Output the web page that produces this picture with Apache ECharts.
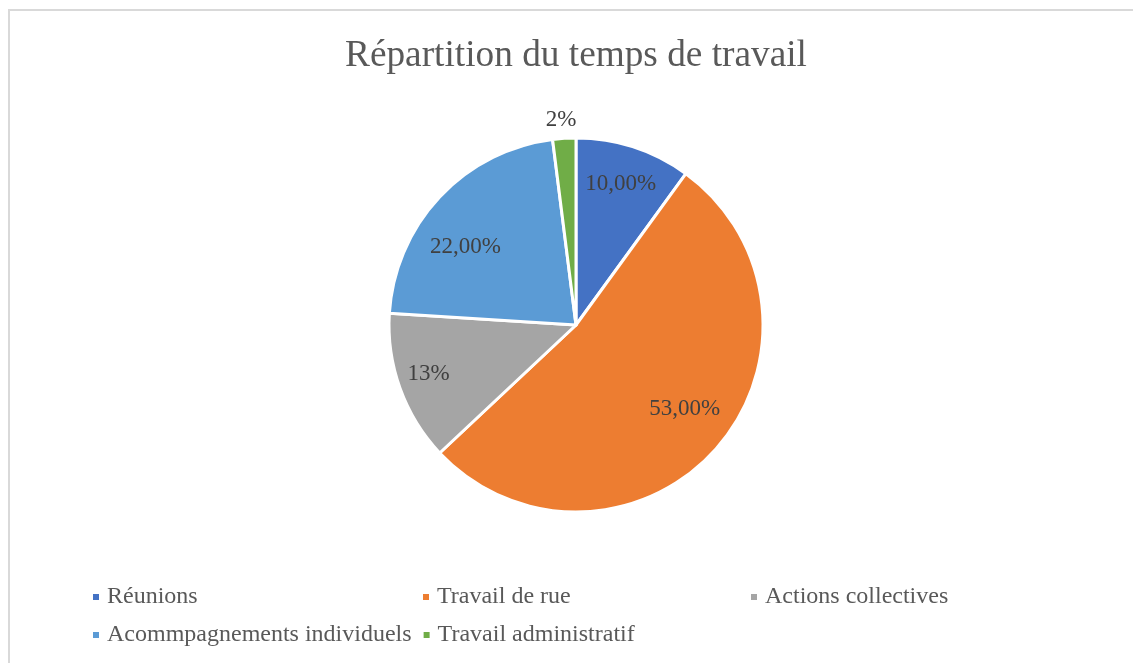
<!DOCTYPE html>
<html>
<head>
<meta charset="utf-8">
<script src="https://cdn.jsdelivr.net/npm/echarts@6/dist/echarts.min.js"></script>
<style>
	html,body{margin:0;padding:0;background:#fff;}
	#wrap{position:relative;width:1133px;height:663px;}
	#frame{position:absolute;left:8px;top:9px;right:0;bottom:0;border-top:2px solid #d9d9d9;border-left:2px solid #d9d9d9;}
	#main{position:absolute;left:0;top:0;width:1133px;height:663px;}
</style>
</head>
<body>
<div id="wrap">
	<div id="frame"></div>
	<div id="main"></div>
</div>
<script>
var categories = ['Réunions','Travail de rue','Actions collectives','Acommpagnements individuels','Travail administratif'];
var values = [10, 53, 13, 22, 2];
var labelTexts = ['10,00%','53,00%','13%','22,00%','2%'];
var colors = ['#4472C4','#ED7D31','#A5A5A5','#5B9BD5','#70AD47'];

var font = '"Liberation Serif", "Times New Roman", serif';

// petits decalages des etiquettes (placement type Excel)
var labelShift = {0: [-2, 3], 1: [-5, -16], 2: [-5, -2], 3: [0, 26], 4: [18, -4]};

var pieData = [];
var labelData = [];
for (var i = 0; i < categories.length; i++) {
	pieData.push({name: categories[i], value: values[i], itemStyle: {color: colors[i]}});
	var d = {name: categories[i], value: values[i], label: {offset: labelShift[i]}};
	if (values[i] < 5) { // petit secteur : etiquette a l'exterieur
		d.label.position = 'outside';
		d.labelLine = {show: false, length: 14, length2: 0};
	}
	labelData.push(d);
}

function legendFor(names, left, top) {
	return {
		data: names, left: left, top: top, padding: 0, itemGap: 10,
		icon: 'rect', itemWidth: 8, itemHeight: 8,
		textStyle: {fontFamily: font, fontSize: 24, color: '#595959', padding: [0, 0, 0, 2]},
		selectedMode: false
	};
}

var option = {
	animation: false,
	textStyle: {fontFamily: font},
	title: {
		text: 'Répartition du temps de travail',
		left: 571, top: 33, textAlign: 'center',
		textStyle: {fontFamily: font, fontSize: 37.3, fontWeight: 'normal', color: '#595959'}
	},
	legend: [
		legendFor([categories[0]], 91, 585),
		legendFor([categories[1]], 421, 585),
		legendFor([categories[2]], 749, 585),
		legendFor([categories[3], categories[4]], 91, 623)
	],
	series: [
		{
			type: 'pie', center: [576, 325], radius: 187, startAngle: 90, clockwise: true,
			silent: true,
			itemStyle: {borderColor: '#fff', borderWidth: 3},
			label: {show: false}, labelLine: {show: false},
			data: pieData
		},
		{
			type: 'pie', center: [576, 325], radius: [110, 187], startAngle: 90, clockwise: true,
			silent: true,
			itemStyle: {color: 'rgba(0,0,0,0)', borderWidth: 0},
			label: {
				show: true, position: 'inside',
				fontFamily: font, fontSize: 23, color: '#404040',
				formatter: function (p) { return labelTexts[p.dataIndex]; }
			},
			labelLine: {show: false},
			data: labelData
		}
	]
};

var oBox = document.getElementById('main');
var myChart = echarts.init(oBox);
myChart.setOption(option);
</script>
</body>
</html>
